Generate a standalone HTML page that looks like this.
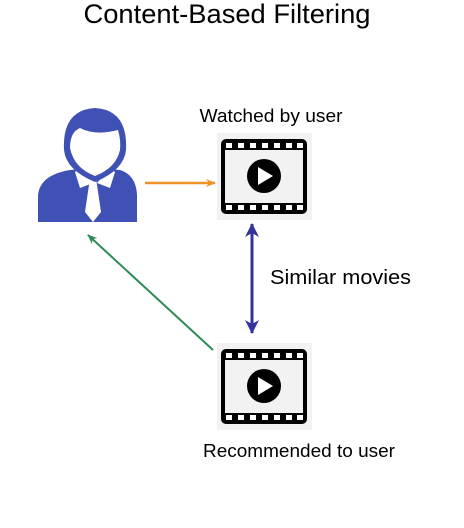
<!DOCTYPE html>
<html><head><style>
body{margin:0;background:#fff;width:464px;height:528px;overflow:hidden;font-family:"Liberation Sans",sans-serif}
svg{position:absolute;left:0;top:0}
</style></head><body>
<svg width="464" height="528" viewBox="0 0 464 528">
<defs>
<marker id="ao" markerWidth="10" markerHeight="10" refX="9" refY="5" orient="auto" markerUnits="userSpaceOnUse"><path d="M0,1 L10,5 L0,9 L3,5z" fill="#f0922a"/></marker>
<marker id="ag" markerWidth="10" markerHeight="10" refX="9" refY="5" orient="auto" markerUnits="userSpaceOnUse"><path d="M0,1 L10,5 L0,9 L3,5z" fill="#2e8b57"/></marker>
<marker id="ab" markerWidth="14" markerHeight="14" refX="13" refY="7" orient="auto-start-reverse" markerUnits="userSpaceOnUse"><path d="M0,0 L14,7 L0,14 L4,7z" fill="#333399"/></marker>
<g id="film">
<rect x="0" y="0" width="95" height="87" fill="#f2f2f2"/>
<rect x="4" y="6" width="86" height="75" rx="5" fill="#000"/>
<rect x="8" y="17" width="78" height="53" fill="#f2f2f2"/>
<g fill="#fff">
<rect x="9" y="10" width="6" height="5"/><rect x="21" y="10" width="6" height="5"/><rect x="33" y="10" width="6" height="5"/><rect x="45" y="10" width="6" height="5"/><rect x="57" y="10" width="6" height="5"/><rect x="69" y="10" width="6" height="5"/><rect x="80" y="10" width="6" height="5"/>
<rect x="9" y="72" width="6" height="5"/><rect x="21" y="72" width="6" height="5"/><rect x="33" y="72" width="6" height="5"/><rect x="45" y="72" width="6" height="5"/><rect x="57" y="72" width="6" height="5"/><rect x="69" y="72" width="6" height="5"/><rect x="80" y="72" width="6" height="5"/>
</g>
<circle cx="47" cy="43" r="17" fill="#000"/>
<path d="M41,34 L56,43 L41,52z" fill="#fff"/>
</g>
</defs>
<text x="227" y="23" font-size="27" text-anchor="middle" fill="#000" textLength="287" lengthAdjust="spacingAndGlyphs">Content-Based Filtering</text>
<!-- person -->
<g fill="#3f51b5">
<path d="M38,222 L38,195 Q40,175 70,170 L90,168 L100,168 L120,170 Q136,175 137,195 L137,222z"/>
</g>
<path d="M88,170 L98,170 L96,178 L101,212 L93,222 L85,212 L90,178z" fill="#fff"/>
<path d="M80,168 L93,183 L80,188 L75,172z M110,168 L97,183 L110,188 L115,172z" fill="#fff"/>
<path d="M64,150 Q62,110 95,108 Q128,110 126,150 Q124,170 95,182 Q66,170 64,150z" fill="#3f51b5"/>
<path d="M70,148 Q70,132 80,128 Q95,136 118,130 Q121,140 120,150 Q116,168 95,176 Q74,168 70,148z" fill="#fff"/>
<text x="271" y="122" font-size="18" text-anchor="middle" fill="#000" textLength="143" lengthAdjust="spacingAndGlyphs">Watched by user</text>
<use href="#film" x="217" y="133"/>
<use href="#film" x="217" y="343"/>
<line x1="145" y1="183" x2="215" y2="183" stroke="#f0922a" stroke-width="2.5" marker-end="url(#ao)"/>
<line x1="252" y1="224" x2="252" y2="333" stroke="#333399" stroke-width="3" marker-end="url(#ab)" marker-start="url(#ab)"/>
<line x1="213" y1="350" x2="88" y2="235" stroke="#2e8b57" stroke-width="2" marker-end="url(#ag)"/>
<text x="270" y="284" font-size="20" fill="#000" textLength="141" lengthAdjust="spacingAndGlyphs">Similar movies</text>
<text x="299" y="457" font-size="18" text-anchor="middle" fill="#000" textLength="192" lengthAdjust="spacingAndGlyphs">Recommended to user</text>
</svg>
</body></html>
